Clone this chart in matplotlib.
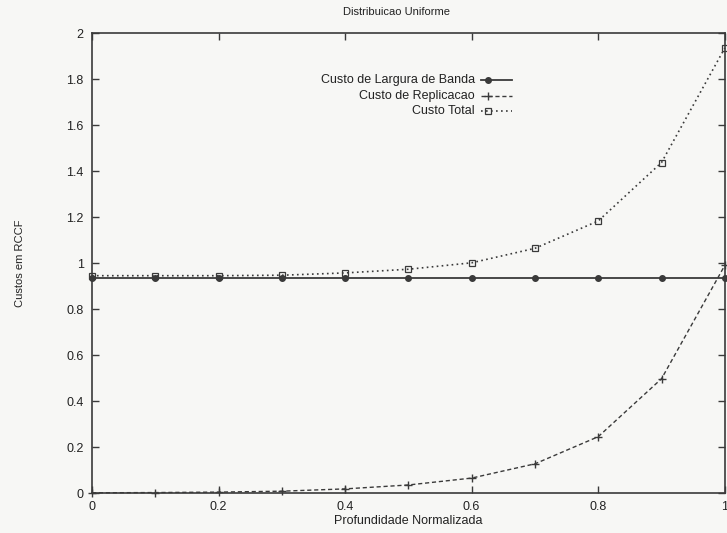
import numpy as np
import matplotlib
matplotlib.use("Agg")
import matplotlib.pyplot as plt

# data
profundidade = [0.0, 0.1, 0.2, 0.3, 0.4, 0.5, 0.6, 0.7, 0.8, 0.9, 1.0]
custo_banda = [0.935, 0.935, 0.935, 0.935, 0.935, 0.935, 0.935, 0.935, 0.935, 0.935, 0.935]
custo_replicacao = [0.001, 0.002, 0.004, 0.008, 0.018, 0.035, 0.065, 0.127, 0.245, 0.497, 0.99]
custo_total = [0.945, 0.945, 0.945, 0.947, 0.957, 0.973, 1.001, 1.064, 1.183, 1.437, 1.935]

nomes = ['Custo de Largura de Banda', 'Custo de Replicacao', 'Custo Total']
xticks = [0, 0.2, 0.4, 0.6, 0.8, 1]
yticks = [0, 0.2, 0.4, 0.6, 0.8, 1, 1.2, 1.4, 1.6, 1.8, 2]

plt.rcParams['font.family'] = ['Liberation Sans', 'DejaVu Sans']
bg = '#f7f7f5'
ink = '#3a3a3a'

fig = plt.figure(figsize=(7.27, 5.33), dpi=100, facecolor=bg)
ax = fig.add_axes([0.1265, 0.075, 0.8705, 0.863], facecolor=bg)

estilos = [
    dict(ls='-', marker='o', ms=4, mfc=ink, mec=ink, lw=1.3),
    dict(ls=(0, (3, 2)), marker='+', ms=6, mew=1.0, lw=1.0),
    dict(ls=(0, (1, 2)), marker='s', ms=5, mfc='none', mec=ink, mew=0.9, lw=1.2),
]
series = [custo_banda, custo_replicacao, custo_total]

for ys, st in zip(series, estilos):
    ax.plot(profundidade, ys, color=ink, clip_on=False, **st)

# gnuplot style key: right aligned text, sample to the right with point inside
key_y = [0.898, 0.863, 0.830]
for nome, st, ky in zip(nomes, estilos, key_y):
    ax.text(0.605, ky, nome, transform=ax.transAxes, ha='right', va='center',
            fontsize=9, color='#222222')
    ax.plot([0.614, 0.626, 0.663], [ky, ky, ky], transform=ax.transAxes,
            color=ink, markevery=[1], **st)

ax.set_xlim(0, 1)
ax.set_ylim(0, 2)
ax.set_xticks(xticks)
ax.set_xticklabels([f'{t:g}' for t in xticks])
ax.set_yticks(yticks)
ax.set_yticklabels([f'{t:g}' for t in yticks])
ax.tick_params(direction='in', top=True, right=True, length=5, width=1,
               labelsize=9, colors=ink, labelcolor='#222222', pad=6)
for s in ax.spines.values():
    s.set_color(ink)
    s.set_linewidth(1.2)

ax.set_xlabel('Profundidade Normalizada', fontsize=9, color='#222222', labelpad=1)
ax.set_ylabel('Custos em RCCF', fontsize=8, color='#222222', labelpad=30)
fig.text(0.545, 0.977, 'Distribuicao Uniforme', ha='center', va='center',
         fontsize=8, color='#222222')

fig.savefig('out.png', dpi=100, facecolor=bg)
